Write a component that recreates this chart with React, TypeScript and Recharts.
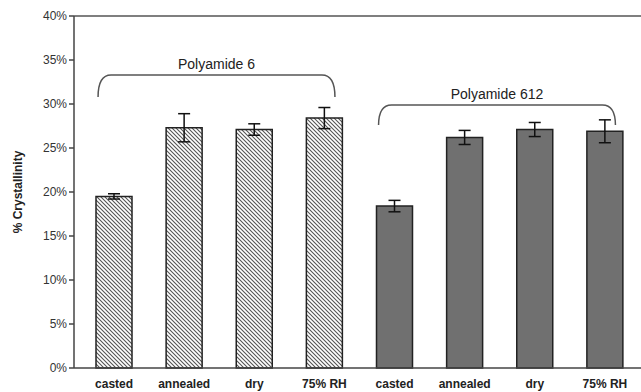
import React from 'react';
import { BarChart, Bar, XAxis, YAxis, ErrorBar, Cell, ReferenceLine } from 'recharts';

const categories = ['casted', 'annealed', 'dry', '75% RH', 'casted', 'annealed', 'dry', '75% RH'];
const groups = ['PA6', 'PA6', 'PA6', 'PA6', 'PA612', 'PA612', 'PA612', 'PA612'];
const crystallinity = [19.5, 27.3, 27.1, 28.4, 18.4, 26.2, 27.1, 26.9];
const errors = [0.3, 1.6, 0.65, 1.2, 0.65, 0.8, 0.8, 1.3];
const yTicks = [0, 5, 10, 15, 20, 25, 30, 35, 40];

// brace annotations: spanning category indices [first, last], y range [bottom, top] in %
const braceLabels = ['Polyamide 6', 'Polyamide 612'];
const braceCats = [[0, 3], [4, 7]];
const braceY = [[30.8, 33.3], [27.6, 29.9]];

const data = categories.map((c, i) => ({
  key: `${groups[i]}-${c}`,
  value: crystallinity[i],
  err: errors[i],
}));

const PAD = { left: 5, right: 1 };
const FONT = 'Liberation Sans, Arial, sans-serif';

const makeBrace = (label: string) => (props: any) => {
  const x1 = props.x1 - 16;
  const x2 = props.x2 + 10.5;
  const { y1, y2 } = props;
  const r = 13;
  const d = `M${x1},${y1} Q${x1},${y2} ${x1 + r},${y2} L${x2 - r},${y2} Q${x2},${y2} ${x2},${y1}`;
  return (
    <g>
      <path d={d} fill="none" stroke="#555" strokeWidth={1.5} />
      <text x={(x1 + x2) / 2} y={y2 - 10} textAnchor="middle" dominantBaseline="middle" fontSize={14} fill="#222" fontFamily={FONT}>
        {label}
      </text>
    </g>
  );
};

export default function App() {
  return (
    <div style={{ position: 'absolute', left: 0, top: 0, background: '#fff' }}>
      <BarChart width={641} height={392} data={data} margin={{ top: 16, right: 0, bottom: 0, left: 0 }} barSize={36}>
        <defs>
          <pattern id="hatch" width="4" height="4" patternUnits="userSpaceOnUse">
            <rect width="4" height="4" fill="#fff" />
            <path d="M-1,-1 L5,5 M3,-1 L5,1 M-1,3 L1,5" stroke="#555" strokeWidth={1.1} />
          </pattern>
        </defs>
        <XAxis
          dataKey="key"
          padding={PAD}
          height={24}
          tickLine={false}
          tickSize={6}
          tickMargin={5}
          axisLine={{ stroke: '#444', strokeWidth: 1.5 }}
          tickFormatter={(_v: any, i: number) => categories[i]}
          tick={{ fontSize: 12, fontWeight: 'bold', fill: '#222', fontFamily: FONT }}
          interval={0}
        />
        <YAxis
          width={74}
          domain={[0, 40]}
          ticks={yTicks}
          interval={0}
          tickSize={5}
          tickFormatter={(v: number) => `${v}%`}
          axisLine={{ stroke: '#444', strokeWidth: 1.5 }}
          tickLine={{ stroke: '#444', strokeWidth: 1.5 }}
          tick={{ fontSize: 12, fill: '#333', fontFamily: FONT }}
          label={{ value: '% Crystallinity', angle: -90, position: 'center', dx: -19, style: { fontSize: 12, fontWeight: 'bold', fill: '#222', fontFamily: FONT } }}
        />
        <ReferenceLine y={40} stroke="#555" strokeWidth={1.5} />
        <Bar dataKey="value" stroke="#222" strokeWidth={1.5} isAnimationActive={false}>
          {data.map((d, i) => (
            <Cell key={d.key} fill={groups[i] === 'PA6' ? 'url(#hatch)' : '#707070'} />
          ))}
          <ErrorBar dataKey="err" width={6} stroke="#111" strokeWidth={1.5} />
        </Bar>
        {braceLabels.map((lbl, i) => (
          <ReferenceLine
            key={lbl}
            ifOverflow="visible"
            segment={[
              { x: data[braceCats[i][0]].key, y: braceY[i][0] },
              { x: data[braceCats[i][1]].key, y: braceY[i][1] },
            ]}
            shape={makeBrace(lbl)}
          />
        ))}
      </BarChart>
    </div>
  );
}
